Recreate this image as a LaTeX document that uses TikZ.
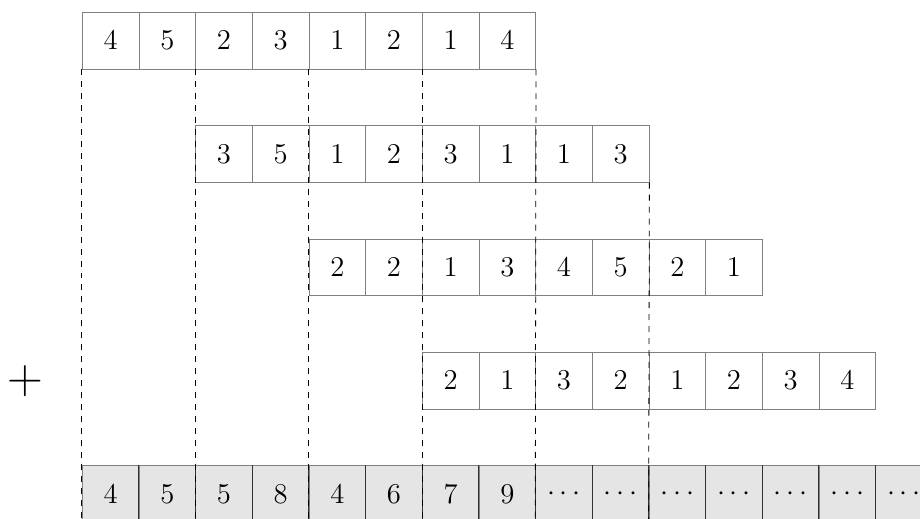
\documentclass[tikz,border=0pt]{standalone}
\usepackage{tikz}
\usetikzlibrary{positioning,calc}
\tikzset{cell/.style={draw=gray, minimum size=1cm, inner sep=0pt, font=\Large},
    sumcell/.style={cell, fill=gray!20}}

\begin{document}
\begin{tikzpicture}
    \clip (-1.452,0.217) rectangle (14.782,-8.924);
    % 四行错位的数
    \foreach \row/\vals in {0/{4,5,2,3,1,2,1,4}, 1/{3,5,1,2,3,1,1,3}, 2/{2,2,1,3,4,5,2,1}, 3/{2,1,3,2,1,2,3,4}}
        \foreach \v [count=\j from 0] in \vals
            \node[cell] (r\row-\j) at ({2*\row+\j+0.5}, {-2*\row-0.5}) {$\v$};
    \node[font=\Huge] (plus) at (-1,-6.5) {$+$};
    % 求和的结果
    \foreach \v [count=\j from 0] in {4,5,5,8,4,6,7,9,\cdots,\cdots,\cdots,\cdots,\cdots,\cdots,\cdots}
        \node[sumcell] (s\j) at (\j+0.5, -8.5) {$\v$};
    \foreach \j in {1,...,14}
        \draw[black!80] (s\j.north west) -- (s\j.south west);
    % 竖的虚线
    \foreach \j in {0,2,4,6}
        \draw[dashed] (r0-\j.south west) -- (s\j.south west);
    \draw[dashed] (r0-7.south east) -- (s8.south west);
    \draw[dashed] (r1-7.south east) -- (s10.south west);
\end{tikzpicture}
\end{document}
